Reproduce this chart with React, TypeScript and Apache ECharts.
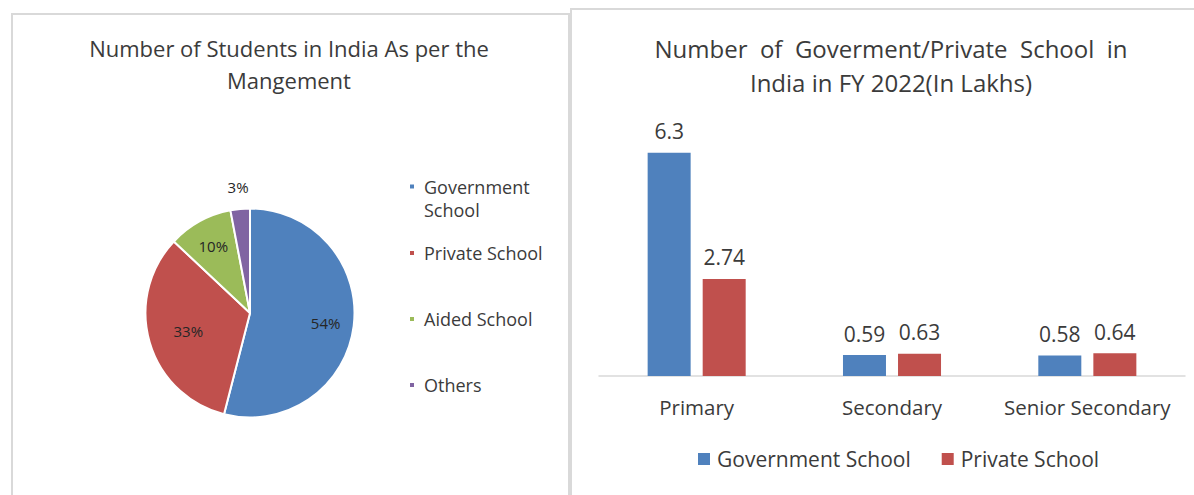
import React, { useEffect, useRef } from "react";
import * as echarts from "echarts";

const pieTitle = "Number of Students in India As per the\nMangement";
const barTitle = "Number  of  Goverment/Private  School  in\nIndia in FY 2022(In Lakhs)";
const pieCategories = ["Government School", "Private School", "Aided School", "Others"];
const piePercents = [54, 33, 10, 3];
const pieColors = ["#4f81bd", "#c0504d", "#9bbb59", "#8064a2"];
const barCategories = ["Primary", "Secondary", "Senior Secondary"];
const barSeriesNames = ["Government School", "Private School"];
const govSchools = [6.3, 0.59, 0.58];
const privateSchools = [2.74, 0.63, 0.64];
const barColors = ["#4f81bd", "#c0504d"];

const FONT = "Open Sans";
const TEXT = "#3b3b3b";
const BORDER = "#d9d9d9";

function labelPie(radius: number[], show: (i: number) => boolean, base: any[]): any {
  return {
    type: "pie",
    center: [250, 313],
    radius,
    startAngle: 90,
    clockwise: true,
    silent: true,
    avoidLabelOverlap: false,
    labelLine: { show: false },
    label: {
      show: true,
      position: "inside",
      fontFamily: FONT,
      fontSize: 15,
      color: "#262626",
      formatter: (p: any) => `${p.value}%`,
    },
    data: base.map((d, i) => ({
      name: d.name,
      value: d.value,
      itemStyle: { color: "rgba(0,0,0,0)", borderWidth: 0 },
      label: { show: show(i) },
    })),
  };
}

function pieOption(): any {
  const base = pieCategories.map((name, i) => ({
    name,
    value: piePercents[i],
    itemStyle: { color: pieColors[i] },
  }));
  return {
    animation: false,
    textStyle: { fontFamily: FONT },
    title: {
      text: pieTitle,
      left: 289,
      top: 32,
      padding: 0,
      textAlign: "center",
      textStyle: { fontFamily: FONT, fontSize: 22, fontWeight: "normal", color: TEXT, lineHeight: 32 },
    },
    graphic: [
      {
        type: "rect",
        shape: { x: 12, y: 14, width: 557, height: 600 },
        style: { fill: "none", stroke: BORDER, lineWidth: 2 },
        silent: true,
      },
    ],
    legend: [
      {
        orient: "vertical",
        left: 408,
        top: 152,
        padding: 0,
        itemWidth: 6,
        itemHeight: 6,
        icon: "rect",
        selectedMode: false,
        data: [pieCategories[0]],
        formatter: () => "\nGovernment\nSchool",
        textStyle: { fontFamily: FONT, fontSize: 18, color: TEXT, lineHeight: 23, padding: [0, 0, 0, 4] },
      },
      {
        orient: "vertical",
        left: 408,
        top: 220,
        padding: 0,
        itemGap: 0,
        itemWidth: 6,
        itemHeight: 6,
        icon: "rect",
        selectedMode: false,
        data: pieCategories.slice(1),
        textStyle: { fontFamily: FONT, fontSize: 18, color: TEXT, lineHeight: 66, padding: [0, 0, 0, 4] },
      },
    ],
    series: [
      {
        type: "pie",
        center: [250, 313],
        radius: 104.5,
        startAngle: 90,
        clockwise: true,
        silent: true,
        label: { show: false },
        labelLine: { show: false },
        itemStyle: { borderColor: "#ffffff", borderWidth: 2 },
        data: base,
      },
      labelPie([42, 104.5], (i) => i === 0 || i === 2, base),
      labelPie([18, 104.5], (i) => i === 1, base),
      labelPie([114, 134], (i) => i === 3, base),
    ],
  };
}

function barOption(): any {
  return {
    animation: false,
    textStyle: { fontFamily: FONT },
    title: {
      text: barTitle,
      left: 321,
      top: 31,
      padding: 0,
      textAlign: "center",
      textStyle: { fontFamily: FONT, fontSize: 24, fontWeight: "normal", color: TEXT, lineHeight: 34 },
    },
    graphic: [
      {
        type: "rect",
        shape: { x: 1, y: 9, width: 800, height: 600 },
        style: { fill: "none", stroke: BORDER, lineWidth: 2 },
        silent: true,
      },
    ],
    legend: {
      left: 128,
      top: 447,
      padding: 0,
      itemWidth: 12,
      itemHeight: 12,
      itemGap: 31,
      icon: "rect",
      selectedMode: false,
      data: barSeriesNames,
      textStyle: { fontFamily: FONT, fontSize: 21, color: TEXT, lineHeight: 24, padding: [0, 0, 0, 2] },
    },
    grid: { left: 29, right: 9, top: 128, bottom: 119 },
    xAxis: {
      type: "category",
      data: barCategories,
      axisLine: { lineStyle: { color: BORDER, width: 1.5 } },
      axisTick: { show: false },
      axisLabel: { interval: 0, hideOverlap: false, fontFamily: FONT, fontSize: 20.5, color: TEXT, lineHeight: 24, margin: 19 },
    },
    yAxis: {
      type: "value",
      min: 0,
      max: 7,
      show: false,
      splitLine: { show: false },
    },
    series: [
      {
        name: barSeriesNames[0],
        type: "bar",
        data: govSchools,
        barWidth: 43,
        barGap: "28%",
        itemStyle: { color: barColors[0] },
        label: { show: true, position: "top", distance: 11, fontFamily: FONT, fontSize: 21, color: TEXT },
      },
      {
        name: barSeriesNames[1],
        type: "bar",
        data: privateSchools,
        barWidth: 43,
        barGap: "28%",
        itemStyle: { color: barColors[1] },
        label: { show: true, position: "top", distance: 11, fontFamily: FONT, fontSize: 21, color: TEXT },
      },
    ],
  };
}

export default function App() {
  const leftRef = useRef<HTMLDivElement>(null);
  const rightRef = useRef<HTMLDivElement>(null);

  useEffect(() => {
    const left = echarts.init(leftRef.current!, undefined, { renderer: "svg" });
    const right = echarts.init(rightRef.current!, undefined, { renderer: "svg" });
    left.setOption(pieOption());
    right.setOption(barOption());
    return () => {
      left.dispose();
      right.dispose();
    };
  }, []);

  return (
    <div style={{ position: "absolute", left: 0, top: 0, width: 1194, height: 495, background: "#fff", overflow: "hidden" }}>
      <div ref={leftRef} style={{ position: "absolute", left: 0, top: 0, width: 570, height: 495 }} />
      <div ref={rightRef} style={{ position: "absolute", left: 570, top: 0, width: 624, height: 495 }} />
    </div>
  );
}
